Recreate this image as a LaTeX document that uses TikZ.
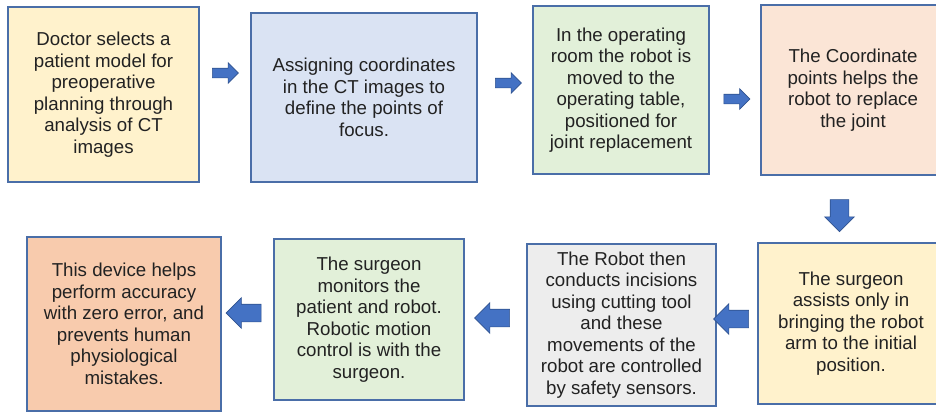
\documentclass[tikz,border=0pt]{standalone}
\usepackage{fontspec}
\setmainfont{Liberation Sans}
\usetikzlibrary{shapes.arrows}
\usepackage{xcolor}
\definecolor{cPlan}{HTML}{FFF2CC}
\definecolor{cCoord}{HTML}{DAE3F3}
\definecolor{cRoom}{HTML}{E2F0D9}
\definecolor{cJoint}{HTML}{FBE5D6}
\definecolor{cCut}{HTML}{EDEDED}
\definecolor{cResult}{HTML}{F8CBAD}
\definecolor{bBox}{HTML}{4A6EA8}
\definecolor{tBox}{HTML}{222222}
\definecolor{cArr}{HTML}{4472C4}
\definecolor{bArr}{HTML}{2F528F}
\tikzset{
  box/.style={draw=bBox, line width=0.75pt, align=center, inner sep=2pt,
              text=tBox, font=\fontsize{9.35}{10.75}\selectfont},
  planbox/.style={box, fill=cPlan},
  coordbox/.style={box, fill=cCoord},
  roombox/.style={box, fill=cRoom},
  jointbox/.style={box, fill=cJoint},
  cutbox/.style={box, fill=cCut},
  resultbox/.style={box, fill=cResult},
  arrbase/.style={single arrow, single arrow head indent=0pt, fill=cArr,
                  draw=bArr, line width=0.3pt, outer sep=0pt},
  rarr/.style={arrbase, minimum height=13pt, inner sep=2.25pt,
               single arrow head extend=2.75pt},
  darr/.style={arrbase, shape border rotate=270, minimum height=16pt,
               inner sep=4.5pt, single arrow head extend=2.75pt},
  larr/.style={arrbase, shape border rotate=180, minimum height=17.5pt,
               inner sep=4.25pt, single arrow head extend=3.25pt},
}

\begin{document}
\begin{tikzpicture}[x=0.5pt, y=-0.5pt]

\fill[white] (0,0) rectangle (936,412);
\useasboundingbox (0,0) rectangle (936,412);

% Top row
\node[planbox, minimum width=95.5pt, minimum height=87.5pt] (plan) at (103.5, 94.5)
  {Doctor selects a\\patient model for\\preoperative\\planning through\\analysis of CT\\images};
\node[coordbox, minimum width=113pt, minimum height=84.5pt] (coord) at (364, 97.5)
  {Assigning coordinates\\in the CT images to\\define the points of\\focus.};
\node[roombox, minimum width=88pt, minimum height=84pt] (room) at (621, 90)
  {In the operating\\room the robot is\\moved to the\\operating table,\\positioned for\\joint replacement};
\node[jointbox, minimum width=92pt, minimum height=85pt] (joint) at (853, 90)
  {The Coordinate\\points helps the\\robot to replace\\the joint};

% Bottom row
\node[planbox, minimum width=93pt, minimum height=80.5pt] (assist) at (851, 323.5)
  {The surgeon\\assists only in\\bringing the robot\\arm to the initial\\position.};
\node[cutbox, minimum width=94.5pt, minimum height=81pt] (cut) at (621.5, 325)
  {The Robot then\\conducts incisions\\using cutting tool\\and these\\movements of the\\robot are controlled\\by safety sensors.};
\node[roombox, minimum width=95pt, minimum height=80.5pt] (monitor) at (369, 319.5)
  {The surgeon\\monitors the\\patient and robot.\\Robotic motion\\control is with the\\surgeon.};
\node[resultbox, minimum width=97pt, minimum height=87pt] (result) at (124, 324)
  {This device helps\\perform accuracy\\with zero error, and\\prevents human\\physiological\\mistakes.};

% Block arrows
\node[rarr] (plan2coord) at (223, 73) {};
\node[rarr] (coord2room) at (506, 83) {};
\node[rarr] (room2joint) at (734.5, 99) {};
\node[darr] (joint2assist) at (839.5, 211) {};
\node[larr] (assist2cut) at (735.5, 319) {};
\node[larr] (cut2monitor) at (496.5, 318) {};
\node[larr] (monitor2result) at (248, 313) {};

\end{tikzpicture}
\end{document}
